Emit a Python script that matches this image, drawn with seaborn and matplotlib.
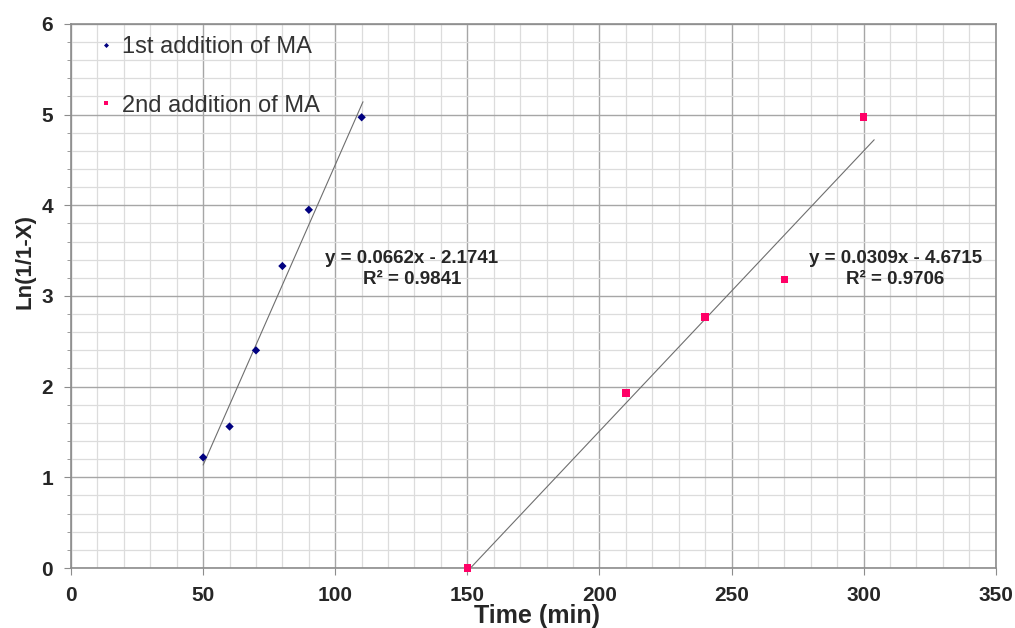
import numpy as np
import pandas as pd
import seaborn as sns
import matplotlib.pyplot as plt
from matplotlib.ticker import MultipleLocator

# 데이터
time_1st = [50, 60, 70, 80, 90, 110]
ln_1st = [1.22, 1.56, 2.40, 3.33, 3.95, 4.97]
time_2nd = [150, 210, 240, 270, 300]
ln_2nd = [0.0, 1.93, 2.77, 3.18, 4.97]

labels = ['1st addition of MA', '2nd addition of MA']
slopes = [0.0662, 0.0309]
intercepts = [-2.1741, -4.6715]
r2 = [0.9841, 0.9706]
fit_range = [(50, 110.5), (150, 304)]
eq_pos = [(129, 3.3), (312, 3.3)]

sns.set_style('white')
plt.rcParams['font.family'] = ['Liberation Sans', 'DejaVu Sans']

df = pd.DataFrame({
    'time': time_1st + time_2nd,
    'ln': ln_1st + ln_2nd,
    'series': [labels[0]] * len(time_1st) + [labels[1]] * len(time_2nd),
})

fig = plt.figure(figsize=(10.15, 6.28), dpi=100)
ax = fig.add_axes([0.070, 0.0955, 0.911, 0.8665])

# 추세선
for i in range(2):
    xs = np.array(fit_range[i])
    ax.plot(xs, slopes[i] * xs + intercepts[i], color='#6e6e6e', lw=0.8, zorder=2)

sns.scatterplot(data=df, x='time', y='ln', hue='series', style='series',
                markers={labels[0]: 'D', labels[1]: 's'},
                palette={labels[0]: '#000080', labels[1]: '#ff0066'},
                size='series', sizes={labels[0]: 18, labels[1]: 30},
                linewidth=0, ax=ax, zorder=3, clip_on=False)

ax.set_xlim(0, 350)
ax.set_ylim(0, 6)
ax.xaxis.set_major_locator(MultipleLocator(50))
ax.xaxis.set_minor_locator(MultipleLocator(10))
ax.yaxis.set_major_locator(MultipleLocator(1))
ax.yaxis.set_minor_locator(MultipleLocator(0.2))
ax.grid(which='major', color='#a6a6a6', lw=1.0)
ax.grid(which='minor', color='#dcdcdc', lw=0.9)
ax.set_axisbelow(True)

for sp in ax.spines.values():
    sp.set_color('#8c8c8c')
    sp.set_linewidth(1.2)

ax.tick_params(axis='both', which='major', direction='out', length=5, color='#8c8c8c',
               labelsize=15)
ax.tick_params(axis='y', which='minor', direction='out', length=3, color='#8c8c8c', left=True)
ax.tick_params(axis='x', which='minor', length=0)
ax.tick_params(axis='y', which='major', left=True, pad=8)
ax.tick_params(axis='x', which='major', bottom=True, pad=8)
for t in ax.get_xticklabels() + ax.get_yticklabels():
    t.set_fontweight('bold')
    t.set_color('#262626')

ax.set_xlabel('Time (min)', fontsize=18, fontweight='bold')
ax.xaxis.set_label_coords((537 - 71) / 925, -(604 - 568) / 544)
ax.xaxis.label.set_va('top')
ax.set_ylabel('Ln(1/1-X)', fontsize=16, fontweight='bold')
ax.yaxis.set_label_coords(-(71 - 25) / 925, (568 - 262) / 544)
ax.yaxis.label.set_va('center')

# 추세식
for i in range(2):
    ax.text(eq_pos[i][0], eq_pos[i][1],
            f'y = {slopes[i]}x - {abs(intercepts[i])}\nR² = {r2[i]}',
            ha='center', va='center', fontsize=13.5, fontweight='bold', color='#262626',
            linespacing=1.3)

ax.legend(loc='upper left', bbox_to_anchor=(0.021, 0.995), frameon=False,
          fontsize=17, labelspacing=1.55, handlelength=0.5, handletextpad=0.45,
          markerscale=0.6, labelcolor='#333333', borderaxespad=0)

plt.savefig('out.png', dpi=100)
